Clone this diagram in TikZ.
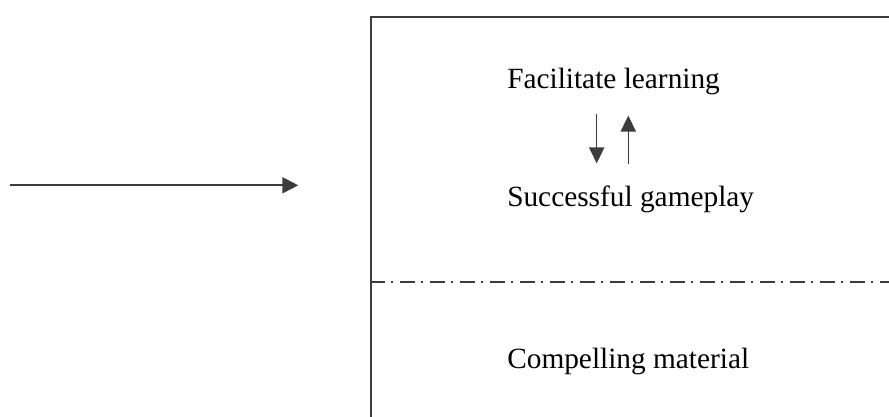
\documentclass[tikz,border=0pt]{standalone}
\usepackage{fontspec}
\setmainfont{Liberation Serif}
\usetikzlibrary{arrows.meta}
\definecolor{linegray}{HTML}{3C3C3E}
\begin{document}
\begin{tikzpicture}[x=0.75pt,y=-0.75pt,
  label/.style={anchor=base west,inner sep=0pt,font=\fontsize{22}{26}\selectfont},
  conn/.style={draw=linegray,line width=1.5pt,-{Triangle[length=12pt,width=12pt]}},
  vconn/.style={draw=linegray,line width=1.1pt,-{Triangle[length=12pt,width=11.5pt]}},
  frame/.style={draw=linegray,line width=1.5pt},
  divider/.style={draw=linegray,line width=1.5pt,dash pattern=on 11.25pt off 4.5pt on 1.5pt off 5.25pt,dash phase=0.75pt}]
\useasboundingbox (0,0) rectangle (889,417);
\draw[frame] (895,17.5) -- (371,17.5) -- (371,425);
\draw[divider] (371,281.7) -- (895,281.7);
\node[label] (fac) at (507,88.3) {Facilitate learning};
\node[label] (suc) at (507,207) {Successful gameplay};
\node[label] (com) at (507,368.3) {Compelling material};
\coordinate (d1) at (596.7,114);
\coordinate (d2) at (596.7,163.3);
\coordinate (u1) at (628.3,164);
\coordinate (u2) at (628.3,115.7);
\coordinate (l1) at (10,185.3);
\coordinate (l2) at (298.3,185.3);
\draw[vconn] (d1) -- (d2);
\draw[vconn] (u1) -- (u2);
\draw[conn] (l1) -- (l2);
\end{tikzpicture}
\end{document}
